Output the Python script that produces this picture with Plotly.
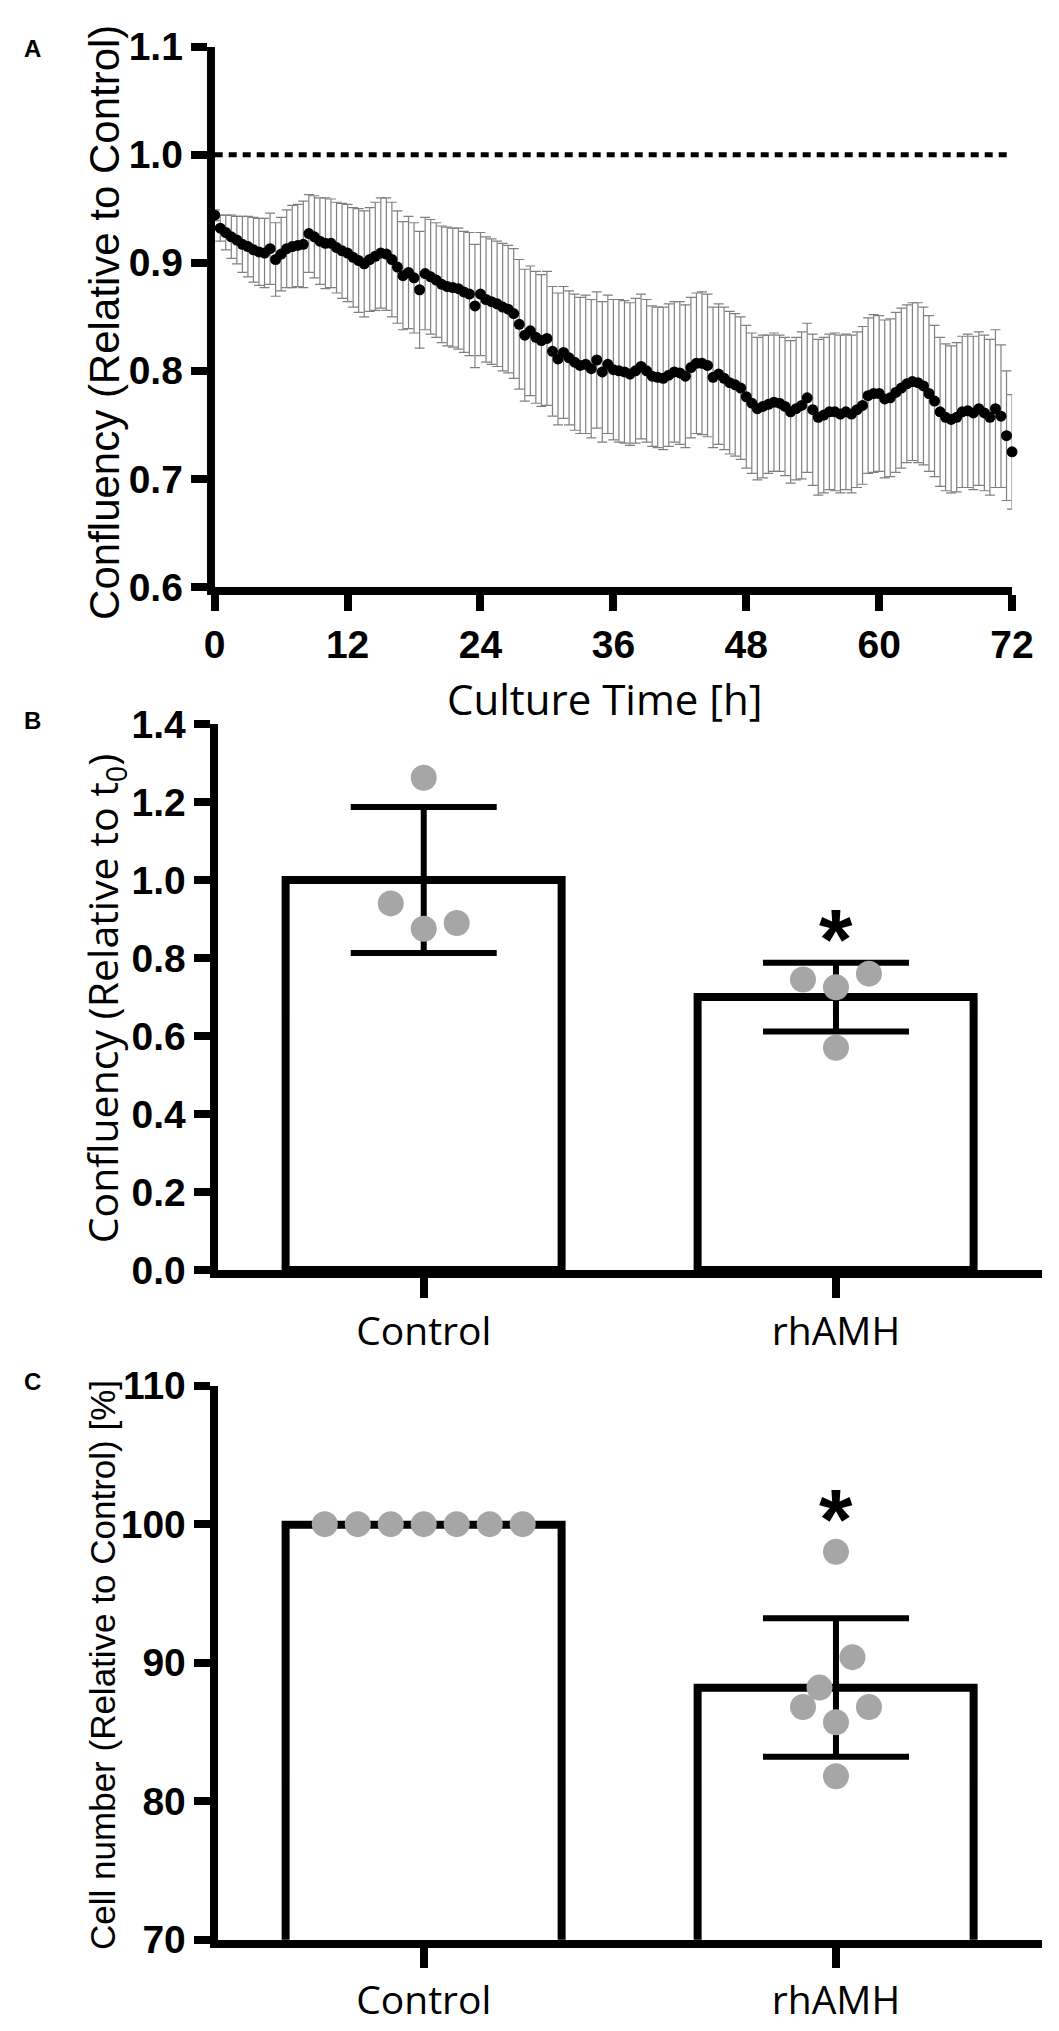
import plotly.graph_objects as go

# ---------------- Panel A data ----------------
time_h = [i * 0.5 for i in range(145)]
conf_mean = [
    0.944, 0.932, 0.928, 0.924, 0.921, 0.917, 0.915, 0.912, 0.910, 0.909,
    0.913, 0.903, 0.908, 0.913, 0.915, 0.916, 0.917, 0.927, 0.924, 0.920,
    0.918, 0.918, 0.914, 0.911, 0.909, 0.905, 0.902, 0.899, 0.903, 0.906,
    0.909, 0.908, 0.903, 0.896, 0.888, 0.891, 0.886, 0.875, 0.890, 0.887,
    0.884, 0.880, 0.878, 0.877, 0.876, 0.873, 0.871, 0.860, 0.871, 0.866,
    0.864, 0.862, 0.859, 0.857, 0.853, 0.843, 0.833, 0.837, 0.831, 0.828,
    0.830, 0.818, 0.811, 0.817, 0.812, 0.808, 0.805, 0.806, 0.802, 0.810,
    0.799, 0.806, 0.801, 0.800, 0.799, 0.797, 0.800, 0.804, 0.800, 0.795,
    0.794, 0.793, 0.796, 0.799, 0.798, 0.795, 0.803, 0.807, 0.807, 0.805,
    0.794, 0.797, 0.793, 0.789, 0.787, 0.784, 0.776, 0.770, 0.765, 0.767,
    0.769, 0.771, 0.770, 0.767, 0.762, 0.765, 0.768, 0.775, 0.764, 0.757,
    0.759, 0.762, 0.762, 0.760, 0.762, 0.760, 0.764, 0.768, 0.777, 0.779,
    0.779, 0.774, 0.775, 0.780, 0.784, 0.788, 0.790, 0.789, 0.786, 0.779,
    0.772, 0.762, 0.757, 0.755, 0.757, 0.762, 0.763, 0.761, 0.765, 0.761,
    0.757, 0.765, 0.758, 0.740, 0.725,
]
conf_sd = [
    0.005, 0.012, 0.016, 0.020, 0.022, 0.026, 0.028, 0.030, 0.031, 0.032,
    0.033, 0.034, 0.034, 0.036, 0.038, 0.038, 0.040, 0.036, 0.038, 0.040,
    0.042, 0.041, 0.042, 0.044, 0.045, 0.046, 0.048, 0.049, 0.048, 0.050,
    0.051, 0.052, 0.053, 0.052, 0.050, 0.052, 0.051, 0.054, 0.052, 0.053,
    0.053, 0.054, 0.055, 0.055, 0.056, 0.056, 0.057, 0.057, 0.057, 0.058,
    0.058, 0.058, 0.059, 0.059, 0.060, 0.060, 0.061, 0.060, 0.061, 0.061,
    0.062, 0.060, 0.061, 0.061, 0.062, 0.063, 0.063, 0.064, 0.064, 0.063,
    0.065, 0.064, 0.065, 0.066, 0.066, 0.066, 0.067, 0.067, 0.066, 0.065,
    0.065, 0.066, 0.066, 0.065, 0.066, 0.066, 0.065, 0.065, 0.066, 0.066,
    0.065, 0.065, 0.066, 0.066, 0.066, 0.066, 0.066, 0.065, 0.066, 0.066,
    0.064, 0.064, 0.063, 0.064, 0.066, 0.066, 0.068, 0.069, 0.070, 0.072,
    0.072, 0.072, 0.073, 0.073, 0.072, 0.073, 0.072, 0.073, 0.072, 0.073,
    0.072, 0.073, 0.073, 0.074, 0.074, 0.073, 0.073, 0.074, 0.073, 0.072,
    0.070, 0.069, 0.068, 0.068, 0.069, 0.070, 0.071, 0.071, 0.071, 0.072,
    0.072, 0.073, 0.066, 0.060, 0.053,
]
a_xticks = [0, 12, 24, 36, 48, 60, 72]
a_yticks = [0.6, 0.7, 0.8, 0.9, 1.0, 1.1]
reference_level = 1.0

# ---------------- Panel B data ----------------
groups = ["Control", "rhAMH"]
b_mean = [1.0, 0.70]
b_sd = [0.187, 0.088]
b_ctrl_pts = [1.262, 0.940, 0.875, 0.890]
b_ctrl_off = [0.0, -0.08, 0.0, 0.08]
b_amh_pts = [0.745, 0.725, 0.760, 0.570]
b_amh_off = [-0.08, 0.0, 0.08, 0.0]
b_star = 0.90
b_yticks = [0.0, 0.2, 0.4, 0.6, 0.8, 1.0, 1.2, 1.4]

# ---------------- Panel C data ----------------
c_mean = [100.0, 88.2]
c_sd = [0.0, 5.0]
c_ctrl_pts = [100, 100, 100, 100, 100, 100, 100]
c_ctrl_off = [-0.24, -0.16, -0.08, 0.0, 0.08, 0.16, 0.24]
c_amh_pts = [98.0, 90.4, 88.2, 86.8, 86.8, 85.7, 81.8]
c_amh_off = [0.0, 0.04, -0.04, -0.08, 0.08, 0.0, 0.0]
c_star = 101.8
c_yticks = [70, 80, 90, 100, 110]

W, H = 1059, 2031
def px(x):
    return x / W
def py(y):
    return 1 - y / H

BOLD = "Liberation Sans Narrow, Arial Narrow, Liberation Sans, Arial"
ARIAL = "Liberation Sans, Arial"
CAL = "Open Sans, Noto Sans, sans-serif"
GREY = "#a6a6a6"
TICKFONT = dict(family=BOLD, size=39, color="black", weight="bold")

fig = go.Figure()

# Panel A
fig.add_trace(go.Scatter(
    x=time_h, y=conf_mean, mode="markers",
    marker=dict(color="black", size=11),
    error_y=dict(type="data", array=conf_sd, color="#808080", thickness=1.2, width=5),
    xaxis="x", yaxis="y", showlegend=False, cliponaxis=False,
))
fig.add_shape(type="line", xref="x", yref="y", x0=a_xticks[0], x1=a_xticks[-1],
              y0=reference_level, y1=reference_level,
              line=dict(color="black", width=5, dash="8px,6px"))

# Panel B
fig.add_trace(go.Bar(
    x=[0, 1], y=b_mean, width=0.67,
    marker=dict(color="white", line=dict(color="black", width=8)),
    error_y=dict(type="data", array=b_sd, color="black", thickness=6, width=73),
    xaxis="x2", yaxis="y2", showlegend=False,
))
fig.add_trace(go.Scatter(
    x=[0 + o for o in b_ctrl_off] + [1 + o for o in b_amh_off],
    y=b_ctrl_pts + b_amh_pts, mode="markers",
    marker=dict(color=GREY, size=26),
    xaxis="x2", yaxis="y2", showlegend=False, cliponaxis=False,
))

# Panel C
fig.add_trace(go.Bar(
    x=[0, 1], y=c_mean, base=0, width=0.67,
    marker=dict(color="white", line=dict(color="black", width=8)),
    error_y=dict(type="data", array=c_sd, color="black", thickness=6, width=73),
    xaxis="x3", yaxis="y3", showlegend=False,
))
fig.add_trace(go.Scatter(
    x=[0 + o for o in c_ctrl_off] + [1 + o for o in c_amh_off],
    y=c_ctrl_pts + c_amh_pts, mode="markers",
    marker=dict(color=GREY, size=26),
    xaxis="x3", yaxis="y3", showlegend=False, cliponaxis=False,
))

axis_common = dict(showline=True, linecolor="black", linewidth=8, ticks="outside",
                   tickcolor="black", tickwidth=8, showgrid=False, zeroline=False)

fig.update_layout(
    width=W, height=H, autosize=False,
    margin=dict(l=0, r=0, t=0, b=0),
    paper_bgcolor="white", plot_bgcolor="white",
    bargap=0,
    xaxis=dict(domain=[px(202), px(1025)], range=[0, 72], tickvals=a_xticks,
               ticklen=16, tickfont=TICKFONT, anchor="y", **axis_common),
    yaxis=dict(domain=[py(570), py(18)], range=[0.6, 1.1], tickvals=a_yticks,
               tickformat=".1f", ticklen=16, tickfont=TICKFONT,
               anchor="x", **axis_common),
    xaxis2=dict(domain=[px(205), px(1056)], range=[-0.5, 1.5], tickvals=[0, 1],
                ticktext=groups, ticklen=20,
                tickfont=dict(family=CAL, size=39, color="black"),
                anchor="y2", **axis_common),
    yaxis2=dict(domain=[py(1268), py(710)], range=[0, 1.4], tickvals=b_yticks,
                tickformat=".1f", ticklen=16, tickfont=TICKFONT,
                anchor="x2", **axis_common),
    xaxis3=dict(domain=[px(205), px(1056)], range=[-0.5, 1.5], tickvals=[0, 1],
                ticktext=groups, ticklen=20,
                tickfont=dict(family=CAL, size=39, color="black"),
                anchor="y3", **axis_common),
    yaxis3=dict(domain=[py(1952), py(1386)], range=[70, 110], tickvals=c_yticks,
                ticklen=16, tickfont=TICKFONT, anchor="x3", **axis_common),
)

ann = []
def label(text, x, y, size, family, angle=0, bold=False):
    t = f"<b>{text}</b>" if bold else text
    ann.append(dict(text=t, x=px(x), y=py(y), xref="paper", yref="paper",
                    xanchor="center", yanchor="middle", showarrow=False,
                    textangle=angle, font=dict(family=family, size=size, color="black")))

label("A", 14, 20, 24, ARIAL, bold=True)
label("B", 14, 706, 24, ARIAL, bold=True)
label("C", 14, 1382, 24, ARIAL, bold=True)
label("Confluency (Relative to Control)", 88, 300, 42, ARIAL, angle=-90)
label("Culture Time [h]", 605, 684, 42, CAL)
label("Confluency (Relative to t<sub>0</sub>)", 88, 990, 41, CAL, angle=-90)
label("Cell number (Relative to Control) [%]", 86, 1671, 35, ARIAL, angle=-90)

for xr, yr, yv in (("x2", "y2", b_star), ("x3", "y3", c_star)):
    ann.append(dict(text="<b>*</b>", x=1, y=yv, xref=xr, yref=yr, xanchor="center",
                    yanchor="middle", showarrow=False, yshift=-20,
                    font=dict(family=ARIAL, size=86, color="black")))

fig.update_layout(annotations=ann)
fig.write_html("out.html")
